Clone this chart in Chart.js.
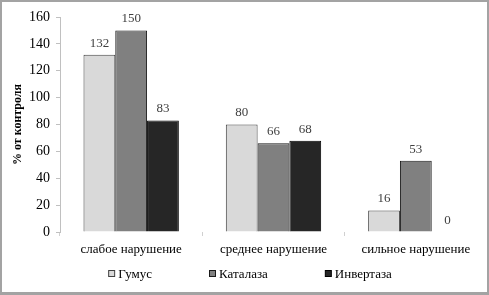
<!DOCTYPE html>
<html>
<head>
<meta charset="utf-8">
<script src="https://cdn.jsdelivr.net/npm/chart.js@4/dist/chart.umd.min.js"></script>
<style>
    html, body { margin: 0; padding: 0; background: #fff; }
    #wrap { position: relative; width: 489px; height: 295px; }
    #frame {
        position: absolute; left: 0; top: 0; width: 489px; height: 295px;
        box-sizing: border-box; border: 2px solid #a3a3a3; border-bottom-width: 3px;
        pointer-events: none;
    }
</style>
</head>
<body>
<div id="wrap">
    <canvas id="barChart" width="489" height="295"></canvas>
    <div id="frame"></div>
</div>
<script>
const categories = ['слабое нарушение', 'среднее нарушение', 'сильное нарушение'];
const gumus = [132, 80, 16];
const katalaza = [150, 66, 53];
const invertaza = [83, 68, 0];
const seriesNames = ['Гумус', 'Каталаза', 'Инвертаза'];
const yTicks = [0, 20, 40, 60, 80, 100, 120, 140, 160];

const fillColors = ['#d9d9d9', '#808080', '#262626'];
const edgeColors = ['#404040', '#1a1a1a', '#000000'];
const serif = "'Liberation Serif', 'Times New Roman', serif";

// value labels above each bar
const valueLabels = {
    id: 'valueLabels',
    afterDatasetsDraw(chart) {
        const ctx = chart.ctx;
        ctx.save();
        ctx.font = '13px ' + serif;
        ctx.fillStyle = '#404040';
        ctx.textAlign = 'center';
        ctx.textBaseline = 'bottom';
        chart.data.datasets.forEach((ds, i) => {
            chart.getDatasetMeta(i).data.forEach((bar, j) => {
                ctx.fillText(String(ds.data[j]), bar.x, bar.y - 5);
            });
        });
        ctx.restore();
    }
};

// legend drawn by hand so the item gaps match the original
const bottomLegend = {
    id: 'bottomLegend',
    afterDraw(chart) {
        const ctx = chart.ctx;
        ctx.save();
        ctx.font = '13px ' + serif;
        const box = 7, gapText = 3, gapItem = 57;
        const widths = seriesNames.map(n => box + gapText + ctx.measureText(n).width);
        const total = widths.reduce((a, b) => a + b, 0) + gapItem * (widths.length - 1);
        let x = 250 - total / 2;
        const y = 274;
        seriesNames.forEach((name, i) => {
            ctx.fillStyle = fillColors[i];
            ctx.fillRect(x + 0.5, y - 3.5, box - 1, box - 1);
            ctx.strokeStyle = edgeColors[i];
            ctx.lineWidth = 1;
            ctx.strokeRect(x + 0.5, y - 3.5, box - 1, box - 1);
            ctx.fillStyle = '#000';
            ctx.textBaseline = 'middle';
            ctx.textAlign = 'left';
            ctx.fillText(name, x + box + gapText, y + 1);
            x += widths[i] + gapItem;
        });
        ctx.restore();
    }
};

const ctx = document.getElementById('barChart').getContext('2d');
new Chart(ctx, {
    type: 'bar',
    data: {
        labels: categories,
        datasets: [gumus, katalaza, invertaza].map((vals, i) => ({
            label: seriesNames[i],
            data: vals,
            backgroundColor: fillColors[i],
            borderColor: edgeColors[i],
            borderWidth: 1,
            categoryPercentage: 0.67,
            barPercentage: 1.0
        }))
    },
    options: {
        responsive: false,
        animation: false,
        devicePixelRatio: 1,
        layout: { padding: { top: 17, right: 2, left: 0, bottom: 0 } },
        plugins: {
            legend: { display: false },
            tooltip: { enabled: false }
        },
        scales: {
            x: {
                border: { display: false },
                grid: {
                    offset: true,
                    drawOnChartArea: false,
                    drawTicks: true,
                    tickLength: 4,
                    color: '#d0d0d0'
                },
                ticks: {
                    font: { family: serif, size: 13 },
                    color: '#000',
                    padding: 6,
                    maxRotation: 0
                },
                afterFit(scale) { scale.height = 63; }
            },
            y: {
                min: 0,
                max: 160,
                afterBuildTicks(scale) { scale.ticks = yTicks.map(v => ({ value: v })); },
                border: { display: true, color: '#c0c0c0' },
                grid: {
                    drawOnChartArea: false,
                    drawTicks: true,
                    tickLength: 4,
                    color: '#c0c0c0'
                },
                ticks: {
                    font: { family: serif, size: 14 },
                    color: '#000',
                    padding: 6
                },
                title: {
                    display: true,
                    text: '% от контроля',
                    font: { family: serif, size: 12, weight: 'bold' },
                    color: '#000',
                    padding: { top: 11, bottom: 0 }
                },
                afterFit(scale) { scale.width = 60; }
            }
        }
    },
    plugins: [valueLabels, bottomLegend]
});
</script>
</body>
</html>
